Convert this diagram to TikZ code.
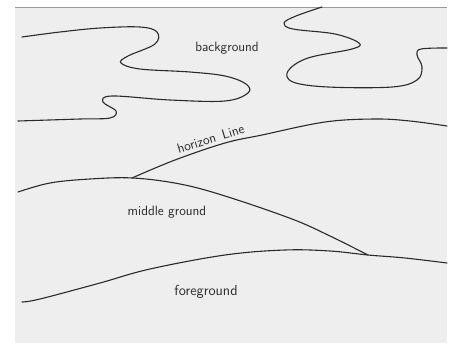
\documentclass[tikz,border=0pt]{standalone}
\definecolor{paper}{HTML}{EEEEEE}
\definecolor{ink}{HTML}{2A2A2A}
\tikzset{
  pen/.style={draw=ink, line width=1.1pt, line cap=round, line join=round},
  label/.style={text=ink, font=\sffamily\fontsize{13.5}{15}\selectfont, inner sep=0pt},
}
\begin{document}
\begin{tikzpicture}[x=1pt,y=-1pt]
\useasboundingbox (0,0) rectangle (450,343);
\fill[white] (0,0) rectangle (450,343);
\fill[paper] (15,7) rectangle (447,343);
\draw[gray!80, line width=0.8pt] (15,7.4) -- (447,7.4);
% top-left cloud band
\draw[pen] plot[smooth, tension=0.6] coordinates {(22,37) (60,32) (100,28) (140,27) (157,32) (155,44) (128,56) (121,63) (140,69) (190,72) (225,76) (246,84) (248,93) (225,101) (170,100) (112,96) (103,102) (116,111) (110,118) (80,119) (18,121)};
% top-right cloud band
\draw[pen] plot[smooth, tension=0.6] coordinates {(322,7) (296,16) (284,23) (293,29) (335,34) (359,43) (352,49) (308,58) (288,71) (293,82) (328,87) (392,87) (417,80) (422,67) (417,55) (421,49) (447,48)};
% horizon line
\draw[pen] plot[smooth, tension=0.6] coordinates {(132,178) (175,160) (225,143) (262,135) (325,122) (375,119) (410,121) (447,126)};
% middle ground hill
\draw[pen] plot[smooth, tension=0.6] coordinates {(18,192) (50,183) (90,179) (133,178) (180,184) (225,196) (292,219) (330,236) (368,255)};
% foreground line
\draw[pen] plot[smooth, tension=0.6] coordinates {(22,302) (40,299) (100,283) (150,269) (225,255) (285,250) (330,251) (368,255) (405,258) (447,263)};
% labels
\node[label] (bg) at (227,48) {background};
\node[label, rotate=17, anchor=base] (hz) at (212,143) {horizon\,\,\,Line};
\node[label] (mg) at (167,212) {middle ground};
\node[label] (fg) at (206,292) {\fontsize{14.5}{16}\selectfont foreground};
\end{tikzpicture}
\end{document}
